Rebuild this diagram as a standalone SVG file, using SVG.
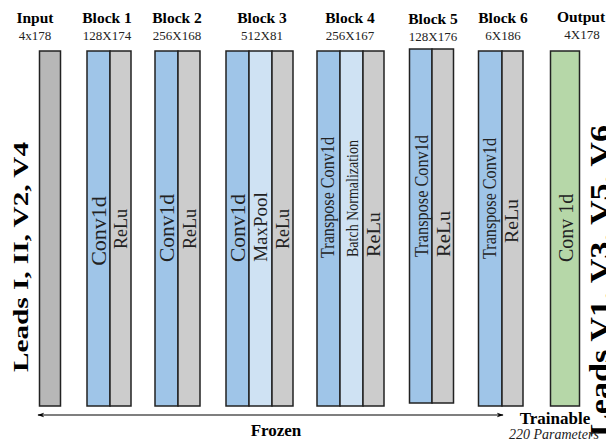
<svg xmlns="http://www.w3.org/2000/svg" width="606" height="440" viewBox="0 0 606 440">
<defs>
<style>
.t{font-family:"Liberation Serif","Times New Roman",serif;font-weight:bold;font-size:15.5px;fill:#000;text-anchor:middle}
.s{font-family:"Liberation Serif","Times New Roman",serif;font-size:13px;fill:#222;text-anchor:middle}
.l{font-family:"Liberation Serif","Times New Roman",serif;fill:#222}
.lb{font-family:"Liberation Serif","Times New Roman",serif;font-weight:bold;fill:#000}
.conv{fill:#9fc5e8;stroke:#222;stroke-width:1.5}
.pool{fill:#cfe2f3;stroke:#222;stroke-width:1.5}
.relu{fill:#cccccc;stroke:#222;stroke-width:1.5}
.inp{fill:#b7b7b7;stroke:#222;stroke-width:1.5}
.out{fill:#b6d7a8;stroke:#222;stroke-width:1.5}
.arr{stroke:#000;stroke-width:1.2;fill:none}
</style>
<marker id="ah" viewBox="0 0 10 10" refX="9" refY="5" markerWidth="7" markerHeight="7" orient="auto-start-reverse" markerUnits="userSpaceOnUse">
<path d="M0,1.5 L10,5 L0,8.5 L3,5 Z" fill="#000"/>
</marker>
</defs>
<rect width="606" height="440" fill="#fff"/>

<g id="input">
<text class="t" x="35" y="23">Input</text>
<text class="s" x="35" y="40">4x178</text>
<rect class="inp" x="39.5" y="51" width="21" height="355"/>
<text class="lb" font-size="22" transform="translate(28,372) rotate(-90)" textLength="230" lengthAdjust="spacingAndGlyphs">Leads I, II, V2, V4</text>
</g>

<g id="block1">
<text class="t" x="107" y="23">Block 1</text>
<text class="s" x="107" y="40">128X174</text>
<rect class="conv" x="87" y="51" width="23" height="355"/>
<rect class="relu" x="110" y="51" width="21" height="355"/>
<text class="l" font-size="22" text-anchor="middle" transform="translate(106,231) rotate(-90)">Conv1d</text>
<text class="l" font-size="18" text-anchor="middle" transform="translate(127,229) rotate(-90)">ReLu</text>
</g>

<g id="block2">
<text class="t" x="177" y="23">Block 2</text>
<text class="s" x="177" y="40">256X168</text>
<rect class="conv" x="155" y="51" width="23" height="355"/>
<rect class="relu" x="178" y="51" width="22" height="355"/>
<text class="l" font-size="21.5" text-anchor="middle" transform="translate(174,228) rotate(-90)">Conv1d</text>
<text class="l" font-size="18" text-anchor="middle" transform="translate(196,229) rotate(-90)">ReLu</text>
</g>

<g id="block3">
<text class="t" x="262" y="23">Block 3</text>
<text class="s" x="262" y="40">512X81</text>
<rect class="conv" x="226" y="51" width="23" height="355"/>
<rect class="pool" x="249" y="51" width="23" height="355"/>
<rect class="relu" x="272" y="51" width="21" height="355"/>
<text class="l" font-size="21.5" text-anchor="middle" transform="translate(245,228) rotate(-90)">Conv1d</text>
<text class="l" font-size="19" text-anchor="middle" transform="translate(267,227) rotate(-90)">MaxPool</text>
<text class="l" font-size="18" text-anchor="middle" transform="translate(289,229) rotate(-90)">ReLu</text>
</g>

<g id="block4">
<text class="t" x="350" y="23">Block 4</text>
<text class="s" x="350" y="40">256X167</text>
<rect class="conv" x="317" y="51" width="23" height="355"/>
<rect class="pool" x="340" y="51" width="23" height="355"/>
<rect class="relu" x="363" y="51" width="21" height="355"/>
<text class="l" font-size="19" transform="translate(334,258) rotate(-90)" textLength="121" lengthAdjust="spacingAndGlyphs">Transpose Conv1d</text>
<text class="l" font-size="17" transform="translate(358,257) rotate(-90)" textLength="117" lengthAdjust="spacingAndGlyphs">Batch Normalization</text>
<text class="l" font-size="19" transform="translate(380,257) rotate(-90)" textLength="45" lengthAdjust="spacingAndGlyphs">ReLu</text>
</g>

<g id="block5">
<text class="t" x="433" y="24">Block 5</text>
<text class="s" x="433" y="41">128X176</text>
<rect class="conv" x="409.5" y="49" width="22.5" height="354"/>
<rect class="relu" x="432" y="49" width="21.5" height="354"/>
<text class="l" font-size="19" transform="translate(428,257) rotate(-90)" textLength="122" lengthAdjust="spacingAndGlyphs">Transpose Conv1d</text>
<text class="l" font-size="19" transform="translate(450,257) rotate(-90)" textLength="46" lengthAdjust="spacingAndGlyphs">ReLu</text>
</g>

<g id="block6">
<text class="t" x="503" y="23">Block 6</text>
<text class="s" x="503" y="40">6X186</text>
<rect class="conv" x="478.5" y="51" width="23.5" height="355"/>
<rect class="relu" x="502" y="51" width="21" height="355"/>
<text class="l" font-size="19" transform="translate(496,259) rotate(-90)" textLength="121" lengthAdjust="spacingAndGlyphs">Transpose Conv1d</text>
<text class="l" font-size="19" transform="translate(518,243) rotate(-90)" textLength="44" lengthAdjust="spacingAndGlyphs">ReLu</text>
</g>

<g id="output">
<text class="t" x="581" y="22">Output</text>
<text class="s" x="582" y="39">4X178</text>
<rect class="out" x="550.5" y="51" width="29" height="355"/>
<text class="l" font-size="20" transform="translate(573,262) rotate(-90)">Conv 1d</text>
<text class="lb" font-size="30" transform="translate(610,437) rotate(-90)" textLength="312" lengthAdjust="spacingAndGlyphs">Leads V1, V3, V5, V6</text>
</g>

<g id="connectors">
<line class="arr" x1="38" y1="415" x2="503" y2="415" marker-start="url(#ah)" marker-end="url(#ah)"/>
</g>

<g id="labels">
<text class="lb" font-size="17" text-anchor="middle" x="276" y="436">Frozen</text>
<text class="lb" font-size="17" text-anchor="middle" x="555" y="424">Trainable</text>
<text class="l" font-size="14" font-style="italic" x="509" y="439">220 Parameters</text>
</g>
</svg>
